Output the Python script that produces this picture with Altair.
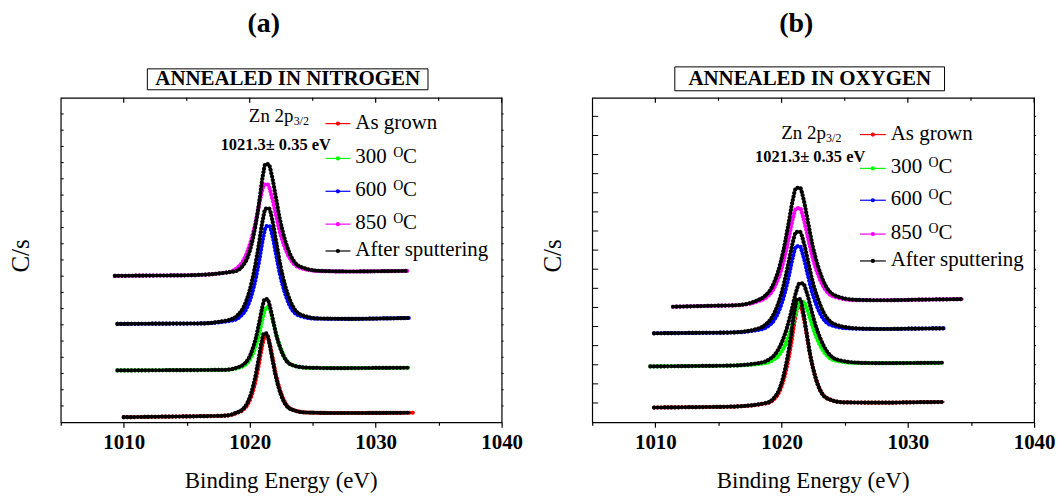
import altair as alt
import pandas as pd

FONT = "Liberation Serif"
X_DOMAIN = [1005, 1040]
Y_DOMAIN = [0, 326]
X_TICKS = [1005, 1010, 1015, 1020, 1025, 1030, 1035, 1040]
X_MAJOR = [1010, 1020, 1030]
X_MINOR = [1015, 1025, 1035]

SERIES = ["As grown", "300 C", "600 C", "850 C", "After sputtering"]
COLORS = ["#ff0000", "#00ff00", "#0000ff", "#ff00ff", "#000000"]
LEGEND_MAIN = ["As grown", "300", "600", "850", "After sputtering"]
LEGEND_SUP = ["", "O", "O", "O", ""]
LEGEND_TAIL = ["", "C", "C", "C", ""]

# ---------------- panel (a): annealed in nitrogen (y = counts, arbitrary, offset stacked) ----------
A_ASGROWN = [(1010, 5), (1013, 5.5), (1016, 6), (1018, 6.5), (1019, 9.4), (1019.5, 12.7), (1019.9, 19.2),
             (1020.2, 28.9), (1020.5, 43.4), (1020.75, 59.5), (1021.0, 77.3), (1021.2, 86.2), (1021.4, 86.4),
             (1021.6, 78.5), (1021.85, 62.7), (1022.1, 46.9), (1022.4, 32.7), (1022.7, 22.4), (1023.0, 16.1),
             (1023.5, 12.2), (1024.5, 9.8), (1027, 9.2), (1030, 9.3), (1033, 9.5)]
A_ASGROWN_SP = [(1010, 5), (1013, 5.5), (1016, 6), (1018, 6.5), (1018.93, 9.5), (1019.43, 12.9), (1019.83, 19.7),
                (1020.13, 29.7), (1020.43, 44.8), (1020.68, 61.5), (1020.93, 79.9), (1021.13, 89.1), (1021.33, 89.3),
                (1021.53, 81.1), (1021.78, 64.7), (1022.03, 48.3), (1022.33, 33.6), (1022.63, 22.9), (1022.93, 16.4),
                (1023.43, 12.3), (1024.43, 9.8), (1027, 9.2), (1030, 9.3), (1032.8, 9.5)]
A_300 = [(1009.5, 52), (1013, 52.2), (1016, 52.4), (1018, 52.6), (1019.1, 54.7), (1019.6, 57.3), (1020.0, 62.5),
         (1020.3, 70.1), (1020.6, 81.6), (1020.85, 94.3), (1021.1, 108.2), (1021.3, 115.2), (1021.5, 115.3),
         (1021.7, 109.1), (1021.95, 96.6), (1022.2, 84.1), (1022.5, 72.9), (1022.8, 64.7), (1023.1, 59.7),
         (1023.6, 56.5), (1024.6, 54.7), (1027, 54.3), (1030, 54.5), (1032.7, 54.7)]
A_300_SP = [(1009.5, 52), (1013, 52.2), (1016, 52.4), (1018, 52.6), (1019.0, 54.9), (1019.5, 57.9), (1019.9, 63.7),
            (1020.2, 72.4), (1020.5, 85.4), (1020.75, 99.8), (1021.0, 115.6), (1021.2, 123.6), (1021.4, 123.7),
            (1021.6, 116.6), (1021.85, 102.4), (1022.1, 88.2), (1022.4, 75.5), (1022.7, 66.2), (1023.0, 60.4),
            (1023.5, 56.9), (1024.5, 54.8), (1027, 54.3), (1030, 54.5), (1032.7, 54.7)]
A_600 = [(1009.5, 98.7), (1013, 99), (1016, 99.2), (1018.68, 102.4), (1019.28, 106.6), (1019.76, 114.6),
         (1020.12, 126.6), (1020.48, 144.4), (1020.78, 164.2), (1021.08, 186), (1021.32, 196.9), (1021.56, 197.1),
         (1021.8, 187.5), (1022.1, 168.1), (1022.4, 148.7), (1022.76, 131.3), (1023.12, 118.8), (1023.48, 111.1),
         (1024.08, 106.5), (1025.28, 104), (1028, 103.8), (1030.5, 104.2), (1032.7, 104.7)]
A_600_SP = [(1009.5, 98.7), (1013, 99), (1016, 99.2), (1018.41, 102.9), (1019.06, 107.7), (1019.58, 117.2),
            (1019.97, 131.3), (1020.36, 152.4), (1020.69, 175.8), (1021.01, 201.5), (1021.27, 214.5), (1021.53, 214.7),
            (1021.79, 203.3), (1022.12, 180.3), (1022.44, 157.3), (1022.83, 136.6), (1023.22, 121.7), (1023.61, 112.6),
            (1024.26, 107.1), (1025.56, 104.2), (1028, 103.8), (1030.5, 104.2), (1032.7, 104.7)]
A_850 = [(1009.3, 147), (1012, 147.3), (1015, 147.6), (1018.31, 150.7), (1018.96, 154.6), (1019.48, 162.1),
         (1019.87, 173.2), (1020.26, 189.8), (1020.59, 208.2), (1020.91, 228.4), (1021.17, 238.6), (1021.43, 238.8),
         (1021.69, 229.9), (1022.02, 211.9), (1022.34, 193.9), (1022.73, 177.7), (1023.12, 166.1), (1023.51, 159),
         (1024.16, 154.5), (1025.46, 151.9), (1028, 151.4), (1030.5, 151.7), (1032.5, 152)]
A_850_SP = [(1009.3, 147), (1012, 147.3), (1015, 147.6), (1018.83, 151.6), (1019.38, 156.2), (1019.82, 165.3),
            (1020.15, 178.9), (1020.48, 199.3), (1020.76, 221.8), (1021.03, 246.6), (1021.25, 259.1), (1021.49, 259.3),
            (1021.75, 248.2), (1022.08, 226), (1022.4, 203.8), (1022.79, 183.8), (1023.18, 169.4), (1023.57, 160.7),
            (1024.22, 155.3), (1025.52, 152.1), (1028, 151.4), (1030.5, 151.7), (1032.5, 152)]

# ---------------- panel (b): annealed in oxygen ----------
B_ASGROWN = [(1009.9, 14.7), (1013, 15.1), (1016, 15.6), (1018.87, 19.2), (1019.42, 23.4), (1019.86, 31.6),
             (1020.19, 43.8), (1020.52, 62), (1020.8, 82.2), (1021.07, 104.4), (1021.29, 115.6), (1021.51, 115.8),
             (1021.73, 106), (1022.01, 86.2), (1022.28, 66.4), (1022.61, 48.5), (1022.94, 35.6), (1023.27, 27.7),
             (1023.82, 22.8), (1024.92, 19.9), (1028, 19.6), (1030.5, 20), (1032.9, 20.3)]
B_ASGROWN_SP = [(1009.9, 14.7), (1013, 15.1), (1016, 15.6), (1018.82, 19.4), (1019.37, 24), (1019.81, 32.8),
                (1020.14, 46), (1020.47, 65.6), (1020.75, 87.4), (1021.02, 111.4), (1021.24, 123.4), (1021.46, 123.6),
                (1021.68, 113), (1021.96, 91.6), (1022.23, 70.2), (1022.56, 50.9), (1022.89, 37), (1023.22, 28.4),
                (1023.77, 23.1), (1024.87, 20), (1028, 19.6), (1030.5, 20), (1032.9, 20.3)]
B_300 = [(1009.6, 56), (1013, 56.4), (1016, 56.9), (1018.61, 59.2), (1019.26, 61.9), (1019.78, 67.1),
         (1020.17, 74.9), (1020.56, 86.5), (1020.89, 99.4), (1021.21, 113.6), (1021.47, 120.7), (1021.73, 120.8),
         (1021.99, 114.5), (1022.32, 101.8), (1022.64, 89.1), (1023.03, 77.7), (1023.42, 69.5), (1023.81, 64.5),
         (1024.46, 61.4), (1025.76, 59.6), (1028, 59.3), (1030.5, 59.5), (1032.8, 59.7)]
B_300_SP = [(1009.6, 56), (1013, 56.4), (1016, 56.9), (1018.33, 59.7), (1019.03, 63.2), (1019.59, 70),
            (1020.01, 80), (1020.43, 95.1), (1020.78, 111.8), (1021.13, 130.1), (1021.41, 139.3), (1021.69, 139.4),
            (1021.97, 131.2), (1022.32, 114.7), (1022.67, 98.2), (1023.09, 83.4), (1023.51, 72.7), (1023.93, 66.2),
            (1024.63, 62.1), (1026.03, 59.8), (1028, 59.3), (1030.5, 59.5), (1032.8, 59.7)]
B_600 = [(1009.9, 89.3), (1013, 89.7), (1016, 90.1), (1018.31, 93.1), (1018.96, 96.8), (1019.48, 103.9),
         (1019.87, 114.5), (1020.26, 130.2), (1020.59, 147.7), (1020.91, 167), (1021.17, 176.7), (1021.43, 176.9),
         (1021.69, 168.3), (1022.02, 151.2), (1022.34, 134.1), (1022.73, 118.8), (1023.12, 107.6), (1023.51, 100.8),
         (1024.16, 96.6), (1025.46, 94.1), (1028, 93.6), (1030.5, 94), (1032.9, 94.3)]
B_600_SP = [(1009.9, 89.3), (1013, 89.7), (1016, 90.1), (1017.97, 93.4), (1018.69, 97.7), (1019.27, 106),
            (1019.71, 118.4), (1020.14, 136.8), (1020.5, 157.2), (1020.87, 179.7), (1021.16, 191.1), (1021.45, 191.3),
            (1021.74, 181.3), (1022.1, 161.3), (1022.46, 141.2), (1022.9, 123.2), (1023.33, 110.1), (1023.77, 102.1),
            (1024.49, 97.2), (1025.94, 94.3), (1028, 93.6), (1030.5, 94), (1032.9, 94.3)]
B_850 = [(1011.4, 116), (1014, 116.8), (1016.5, 117.6), (1018.08, 121.3), (1018.78, 125.4), (1019.34, 133.4),
         (1019.76, 145.2), (1020.18, 162.9), (1020.53, 182.5), (1020.88, 204), (1021.16, 214.9), (1021.44, 215.1),
         (1021.72, 205.6), (1022.07, 186.4), (1022.42, 167.2), (1022.84, 149.9), (1023.26, 137.5), (1023.68, 129.9),
         (1024.38, 125.3), (1025.78, 122.7), (1028, 122.5), (1031, 123.1), (1034.4, 123.7)]
B_850_SP = [(1011.4, 116), (1014, 116.8), (1016.5, 117.6), (1017.97, 121.9), (1018.69, 126.9), (1019.27, 136.5),
            (1019.71, 150.9), (1020.14, 172.3), (1020.5, 196.1), (1020.87, 222.3), (1021.16, 235.4), (1021.45, 235.6),
            (1021.74, 224), (1022.1, 200.6), (1022.46, 177.2), (1022.9, 156.2), (1023.33, 141.1), (1023.77, 131.8),
            (1024.49, 126.1), (1025.94, 122.9), (1028, 122.5), (1031, 123.1), (1034.4, 123.7)]

# inner y-tick positions (same units as the curves)
YTICKS_A = [16.3, 32.6, 48.9, 65.2, 81.5, 97.8, 114.1, 130.4, 146.7, 163, 179.3, 195.6, 211.9, 228.2, 244.5,
            260.8, 277.1, 293.4, 309.7]
YTICKS_B = [19.3, 38.5, 57.7, 76.9, 96.1, 115.3, 134.5, 153.7, 172.9, 192.1, 211.3, 230.5, 249.7, 268.9, 288.1,
            307.3]

W_A, W_B, H = 443, 444, 326
DUMMY = pd.DataFrame({"k": [0]})


def frame(curves):
    rows = []
    for grp, (series, pts) in enumerate(curves):
        for x, y in pts:
            rows.append({"x": x, "y": y, "series": series, "grp": f"{series}-{grp}"})
    return pd.DataFrame(rows)


def panel(colored, black, W, tag, box, note, legend, tick_len, ctitle_x):
    xs = alt.Scale(domain=X_DOMAIN, nice=False, zero=False)
    ys = alt.Scale(domain=Y_DOMAIN, nice=False, zero=False)
    color = alt.Color("series:N", scale=alt.Scale(domain=SERIES, range=COLORS), legend=None)
    xaxis = alt.Axis(values=X_TICKS, format="d", title=None, grid=False,
                     labelExpr="datum.value % 10 == 0 ? datum.label : ''",
                     tickSize={"condition": {"test": "datum.value % 10 == 0", "value": 5}, "value": 3},
                     labelFont=FONT, labelFontWeight="bold", labelFontSize=21, labelColor="black",
                     labelPadding=4, labelOverlap=False, labelFlush=False,
                     domainColor="black", tickColor="black", domainWidth=1.2, tickWidth=1.2)
    X = alt.X("x:Q", scale=xs, axis=xaxis)
    Y = alt.Y("y:Q", scale=ys, axis=None)

    dc, db = frame(colored), frame(black)
    layers = []
    for df in (dc, db):
        base = alt.Chart(df).encode(x=X, y=Y, color=color, detail="grp:N")
        layers.append(base.mark_line(interpolate="monotone", strokeWidth=0.9))
        layers.append(base.mark_line(interpolate="monotone", strokeWidth=4.2, strokeDash=[0.1, 3.4],
                                     strokeCap="round"))

    # inner tick marks
    tx = alt.X("x:Q", scale=xs, axis=xaxis)
    layers.append(alt.Chart(pd.DataFrame({"x": X_MAJOR + [1040]})).mark_rule(color="black", strokeWidth=1.2)
                  .encode(x=tx, y=alt.value(0), y2=alt.value(5)))
    layers.append(alt.Chart(pd.DataFrame({"x": X_MINOR})).mark_rule(color="black", strokeWidth=1.2)
                  .encode(x=tx, y=alt.value(0), y2=alt.value(3)))
    yt = pd.DataFrame({"y": YTICKS_A if tag == "(a)" else YTICKS_B})
    layers.append(alt.Chart(yt).mark_rule(color="black", strokeWidth=1)
                  .encode(y=Y, x=alt.value(0), x2=alt.value(tick_len)))
    layers.append(alt.Chart(yt).mark_rule(color="black", strokeWidth=1)
                  .encode(y=Y, x=alt.value(W), x2=alt.value(W + 2)))

    d = alt.Chart(DUMMY)
    # panel tag and boxed title
    layers.append(d.mark_text(font=FONT, fontSize=28, fontWeight="bold", color="black", text=tag)
                  .encode(x=alt.value(box["tag_x"]), y=alt.value(-74)))
    layers.append(d.mark_rect(fill="white", stroke="black", strokeWidth=1)
                  .encode(x=alt.value(box["x0"]), x2=alt.value(box["x1"]),
                          y=alt.value(box["y0"]), y2=alt.value(box["y1"])))
    layers.append(d.mark_text(font=FONT, fontSize=21, fontWeight="bold", color="black", text=box["text"])
                  .encode(x=alt.value((box["x0"] + box["x1"]) / 2), y=alt.value((box["y0"] + box["y1"]) / 2)))
    # axis titles
    layers.append(d.mark_text(font=FONT, fontSize=25, color="black", text="C/s", angle=270)
                  .encode(x=alt.value(ctitle_x), y=alt.value(H / 2 - 4)))
    layers.append(d.mark_text(font=FONT, fontSize=23, color="black", text="Binding Energy (eV)")
                  .encode(x=alt.value(W / 2), y=alt.value(H + 59)))
    # peak annotation
    layers.append(d.mark_text(font=FONT, fontSize=19, color="black", text="Zn 2p", align="left")
                  .encode(x=alt.value(note["zx"]), y=alt.value(note["zy"] - 1)))
    layers.append(d.mark_text(font=FONT, fontSize=12, color="black", text="3/2", align="left")
                  .encode(x=alt.value(note["zx"] + 45), y=alt.value(note["zy"] + 4)))
    layers.append(d.mark_text(font=FONT, fontSize=16.5, fontWeight="bold", color="black",
                              text="1021.3\u00b1 0.35 eV")
                  .encode(x=alt.value(note["ex"]), y=alt.value(note["ey"] - 1)))
    # legend
    for main, sup, tail, col, yy in zip(LEGEND_MAIN, LEGEND_SUP, LEGEND_TAIL, COLORS, legend["rows"]):
        layers.append(d.mark_rule(color=col, strokeWidth=1.2)
                      .encode(x=alt.value(legend["x0"]), x2=alt.value(legend["x1"]), y=alt.value(yy)))
        layers.append(d.mark_point(filled=True, color=col, size=18, opacity=1)
                      .encode(x=alt.value((legend["x0"] + legend["x1"]) / 2), y=alt.value(yy)))
        layers.append(d.mark_text(font=FONT, fontSize=21, color="black", text=main, align="left")
                      .encode(x=alt.value(legend["tx"]), y=alt.value(yy - 1)))
        if sup:
            layers.append(d.mark_text(font=FONT, fontSize=14, color="black", text=sup, align="left")
                          .encode(x=alt.value(legend["tx"] + 38), y=alt.value(yy - 5)))
            layers.append(d.mark_text(font=FONT, fontSize=21, color="black", text=tail, align="left")
                          .encode(x=alt.value(legend["tx"] + 48), y=alt.value(yy - 1)))
    return alt.layer(*layers).properties(width=W, height=H)


panel_a = panel(
    colored=[("As grown", A_ASGROWN), ("300 C", A_300), ("600 C", A_600), ("850 C", A_850)],
    black=[("After sputtering", A_ASGROWN_SP), ("After sputtering", A_300_SP),
           ("After sputtering", A_600_SP), ("After sputtering", A_850_SP)],
    W=W_A, tag="(a)",
    box={"tag_x": 204, "x0": 87, "x1": 369, "y0": -29, "y1": -8, "text": "ANNEALED IN NITROGEN"},
    note={"zx": 189, "zy": 19, "ex": 216, "ey": 49},
    legend={"x0": 266, "x1": 291, "tx": 296, "rows": [26, 61, 94, 127, 154]},
    tick_len=3, ctitle_x=-40,
)
panel_b = panel(
    colored=[("As grown", B_ASGROWN), ("300 C", B_300), ("600 C", B_600), ("850 C", B_850)],
    black=[("After sputtering", B_ASGROWN_SP), ("After sputtering", B_300_SP),
           ("After sputtering", B_600_SP), ("After sputtering", B_850_SP)],
    W=W_B, tag="(b)",
    box={"tag_x": 205, "x0": 83, "x1": 354, "y0": -31, "y1": -7, "text": "ANNEALED IN OXYGEN"},
    note={"zx": 190, "zy": 36, "ex": 219, "ey": 61},
    legend={"x0": 269, "x1": 295, "tx": 300, "rows": [37, 71, 103, 137, 164]},
    tick_len=6, ctitle_x=-39,
)

chart = alt.hconcat(panel_a, panel_b, spacing=91, bounds="flush").properties(
    padding={"left": 0, "top": 0, "right": 0, "bottom": 0}
).configure_view(stroke="black", strokeWidth=1.2)

chart.save("out.html", embed_options={"renderer": "svg", "actions": False})
